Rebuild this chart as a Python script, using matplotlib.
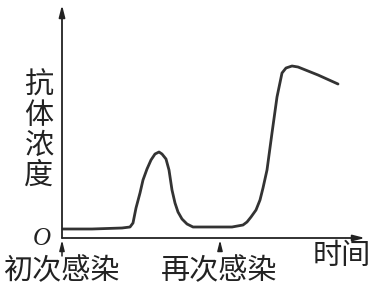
#antibody concentration curve, first and second infection

import numpy as np
import matplotlib
matplotlib.use("Agg")
import matplotlib.pyplot as plt

plt.rcParams['font.family'] = ['Noto Sans CJK SC', 'DejaVu Sans']

#curve (time units, concentration units)
time = [1, 30, 60, 68, 71, 74, 78, 81, 85, 89, 93, 97, 100, 104, 107, 110, 113, 116, 120, 125, 131,
        150, 170, 181, 185, 189, 194, 198, 201, 205, 210, 215, 220, 224, 230, 236, 256, 276]
conc = [9, 9, 10, 11, 15, 30, 45, 58, 69, 78, 84, 86, 84, 79, 68, 48, 35, 26, 19, 14, 11,
        11, 11, 13, 16, 21, 28, 38, 50, 68, 105, 141, 165, 170, 172, 171, 163, 154]

#infection times
infect_t = [0, 158]
infect_lab = ["初次感染", "再次感染"]
xlab = "时间"
ylab = "抗体浓度"

fig = plt.figure(figsize=(3.74, 2.89), dpi=100)
ax = fig.add_axes([0, 0, 1, 1])
ax.set_xlim(-62, 312)
ax.set_ylim(-51, 238)
ax.axis('off')

#axes with arrows
arr = dict(arrowstyle='-|>,head_length=0.7,head_width=0.18', color='#222222', lw=1.3,
           shrinkA=0, shrinkB=0)
ax.annotate('', xy=(0, 233), xytext=(0, 0), arrowprops=arr)
ax.annotate('', xy=(303, 0), xytext=(0, 0), arrowprops=arr)

#curve
ax.plot(time, conc, color='#333333', lw=2.0, solid_joinstyle='round', solid_capstyle='round')

#infection markers
small = dict(arrowstyle='-|>,head_length=0.6,head_width=0.15', color='#222222', lw=1.1,
             shrinkA=0, shrinkB=0)
for t, lab in zip(infect_t, infect_lab):
    ax.annotate('', xy=(t, -2), xytext=(t, -18 if t == 0 else -12), arrowprops=small)
    ax.text(t - 1, -33, lab, fontsize=21, ha='center', va='center', color='#222222')

ax.text(279.5, -18.5, xlab, fontsize=21, ha='center', va='center', color='#222222')
ax.text(-20, -1, "O", fontsize=18, ha='center', va='center', color='#222222',
        family='Liberation Serif', style='italic')
ax.text(-23, 107, "\n".join(ylab), fontsize=21, ha='center', va='center', color='#222222',
        linespacing=1.0)

fig.savefig("out.png", dpi=100)
